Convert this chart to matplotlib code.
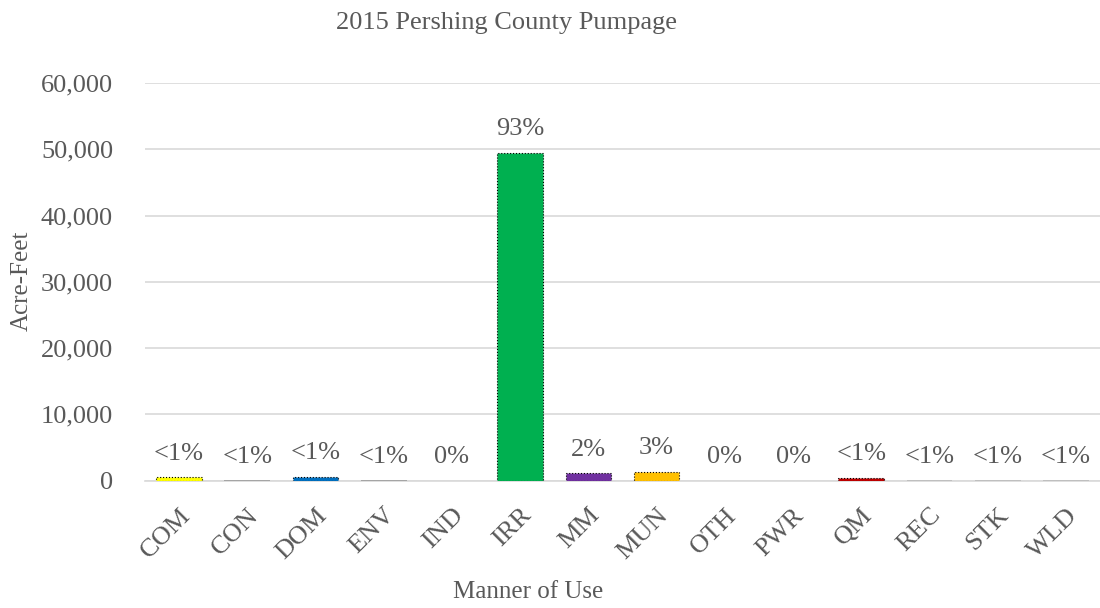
import matplotlib.pyplot as plt
from matplotlib.ticker import FuncFormatter
from matplotlib.transforms import ScaledTranslation

plt.rcParams["font.family"] = ["Liberation Serif", "DejaVu Serif"]

categories = ["COM", "CON", "DOM", "ENV", "IND", "IRR", "MM",
              "MUN", "OTH", "PWR", "QM", "REC", "STK", "WLD"]
acre_feet = [480, 20, 560, 30, 0, 49500, 1100,
             1350, 0, 0, 450, 40, 30, 50]
pct_labels = ["<1%", "<1%", "<1%", "<1%", "0%", "93%", "2%",
              "3%", "0%", "0%", "<1%", "<1%", "<1%", "<1%"]
colors = ["#FFFF00", "#A5A5A5", "#0070C0", "#A5A5A5", "#4472C4", "#00B050", "#7030A0",
          "#FFC000", "#5B9BD5", "#ED7D31", "#C00000", "#BFBFBF", "#BFBFBF", "#BFBFBF"]

text_color = "#595959"
grid_color = "#D9D9D9"

W, H = 1100, 608
fig = plt.figure(figsize=(W / 100, H / 100), dpi=100)
ax = fig.add_axes([145 / W, 1 - 480.5 / H, (1100 - 145) / W, (480.5 - 83) / H])

x = range(len(categories))
# tiny bars show no visible outline in the original
edges = ["black" if v >= 100 else "none" for v in acre_feet]
ax.bar(x, acre_feet, width=0.67, color=colors, edgecolor=edges,
       linestyle=":", linewidth=0.8, zorder=3)

# percent labels above bars
for i, (v, lab) in enumerate(zip(acre_feet, pct_labels)):
    ax.annotate(lab, (i, v), xytext=(0, 17), textcoords="offset points",
                ha="center", va="center", fontsize=19, color=text_color)

ax.set_xlim(-0.5, len(categories) - 0.5)
ax.set_ylim(0, 60000)
ax.set_yticks(range(0, 60001, 10000))
ax.yaxis.set_major_formatter(FuncFormatter(lambda v, p: f"{int(v):,}"))
ax.yaxis.grid(True, color=grid_color, linewidth=1.2, zorder=0)

ax.set_xticks(list(x))
ax.set_xticklabels(categories, rotation=45, ha="right", va="top",
                   rotation_mode="anchor")
shift = ScaledTranslation(-9 / 100, 0, fig.dpi_scale_trans)
for lbl in ax.get_xticklabels():
    lbl.set_transform(lbl.get_transform() + shift)
ax.tick_params(axis="x", length=0, pad=17, labelsize=19, colors=text_color)
ax.tick_params(axis="y", length=0, pad=23, labelsize=19, colors=text_color)

for s in ["top", "right", "left"]:
    ax.spines[s].set_visible(False)
ax.spines["bottom"].set_color(grid_color)
ax.spines["bottom"].set_linewidth(1.2)

fig.text(507 / W, 1 - 23 / H, "2015 Pershing County Pumpage",
         ha="center", va="center", fontsize=19, color=text_color)
fig.text(528 / W, 1 - 592 / H, "Manner of Use",
         ha="center", va="center", fontsize=18, color=text_color)
fig.text(22 / W, 1 - 281 / H, "Acre-Feet", rotation=90,
         ha="center", va="center", fontsize=18, color=text_color)

fig.savefig("out.png", dpi=100)
